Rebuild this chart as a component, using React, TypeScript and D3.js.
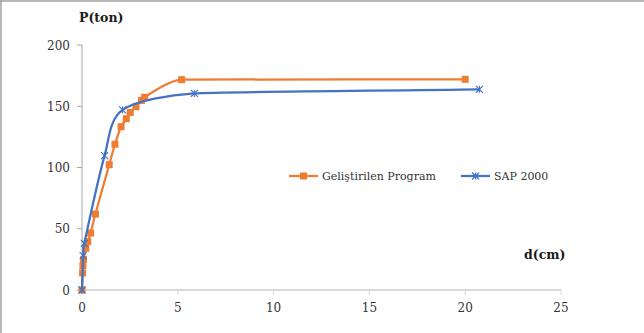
import React from "react";
import * as d3 from "d3";

// Load–displacement results: displacement d (cm) vs. load P (ton)
const programD = [0, 0.03, 0.05, 0.08, 0.2, 0.3, 0.45, 0.7, 1.42, 1.72, 2.04, 2.31, 2.52, 2.82, 3.11, 3.27, 5.2, 20];
const programP = [0, 14, 20, 25, 34, 39.5, 46.5, 62, 102.3, 119, 133.3, 139.8, 145, 149.6, 154.8, 157.3, 171.7, 172];

const sapD = [0, 0.06, 0.12, 1.18, 2.12, 5.86, 20.74];
const sapP = [0, 28, 38, 109.7, 147, 160.5, 163.8];

const xTicks = [0, 5, 10, 15, 20, 25];
const yTicks = [0, 50, 100, 150, 200];

const seriesNames = ["Geliştirilen Program", "SAP 2000"];
const ORANGE = "#ED7D31";
const BLUE = "#4472C4";

const W = 644;
const H = 333;

type Pt = [number, number];

// Smooth spline through screen points: each tangent follows the neighbour
// chord, and its handle length is limited by the shorter adjacent segment so
// long flat runs don't bulge.
function smoothPath(pts: Pt[]): string {
  const p = d3.path();
  const n = pts.length;
  if (n === 0) return "";
  const len = (a: Pt, b: Pt) => Math.hypot(b[0] - a[0], b[1] - a[1]);
  const seg = pts.slice(1).map((q, i) => len(pts[i], q));
  const tan: Pt[] = pts.map((_, i) => {
    const a = pts[Math.max(0, i - 1)];
    const b = pts[Math.min(n - 1, i + 1)];
    const l = len(a, b) || 1;
    return [(b[0] - a[0]) / l, (b[1] - a[1]) / l];
  });
  const handle = pts.map((_, i) => {
    const l0 = i > 0 ? seg[i - 1] : Infinity;
    const l1 = i < n - 1 ? seg[i] : Infinity;
    return Math.min(l0, l1) / 3;
  });
  p.moveTo(pts[0][0], pts[0][1]);
  for (let i = 0; i < n - 1; i++) {
    const a = pts[i];
    const b = pts[i + 1];
    p.bezierCurveTo(
      a[0] + tan[i][0] * handle[i],
      a[1] + tan[i][1] * handle[i],
      b[0] - tan[i + 1][0] * handle[i + 1],
      b[1] - tan[i + 1][1] * handle[i + 1],
      b[0],
      b[1]
    );
  }
  return p.toString();
}

export default function App() {
  const x = d3.scaleLinear().domain([0, 25]).range([82, 561]);
  const y = d3.scaleLinear().domain([0, 200]).range([290, 45]);

  const program: Pt[] = programD.map((d, i) => [x(d), y(programP[i])]);
  const sap: Pt[] = sapD.map((d, i) => [x(d), y(sapP[i])]);

  const serif = "'DejaVu Serif', serif";

  const star = (cx: number, cy: number, key: string | number) => {
    const r = 3.5;
    return (
      <g key={key} stroke={BLUE} strokeWidth={1.2}>
        <line x1={cx - r} y1={cy - r} x2={cx + r} y2={cy + r} />
        <line x1={cx - r} y1={cy + r} x2={cx + r} y2={cy - r} />
        <line x1={cx} y1={cy - r} x2={cx} y2={cy + r} />
      </g>
    );
  };

  const square = (cx: number, cy: number, key: string | number) => (
    <rect key={key} x={cx - 3.5} y={cy - 3.5} width={7} height={7} fill={ORANGE} />
  );

  return (
    <svg
      width={W}
      height={H}
      style={{ position: "absolute", left: 0, top: 0, background: "#fff" }}
    >
      {/* chart frame */}
      <line x1={0} y1={1} x2={W} y2={1} stroke="#a0a0a0" strokeWidth={1.5} />
      <line x1={1} y1={0} x2={1} y2={H} stroke="#a0a0a0" strokeWidth={1.5} />

      {/* x axis */}
      <line x1={x(0)} y1={y(0)} x2={x(25)} y2={y(0)} stroke="#d9d9d9" strokeWidth={2} />
      {xTicks.map((t) => (
        <g key={"xt" + t}>
          <line x1={x(t)} y1={y(0)} x2={x(t)} y2={y(0) + 5} stroke="#d9d9d9" strokeWidth={1} />
          <text x={x(t)} y={312} textAnchor="middle" fontFamily={serif} fontSize={12} fill="#333">
            {t}
          </text>
        </g>
      ))}

      {/* y axis */}
      <line x1={x(0)} y1={y(200)} x2={x(0)} y2={y(0)} stroke="#a6a6a6" strokeWidth={1} />
      {yTicks.map((t) => (
        <g key={"yt" + t}>
          <line x1={x(0) - 5} y1={y(t)} x2={x(0)} y2={y(t)} stroke="#a6a6a6" strokeWidth={1} />
          <text x={70} y={y(t) + 4.5} textAnchor="end" fontFamily={serif} fontSize={12} fill="#333">
            {t}
          </text>
        </g>
      ))}

      {/* axis titles */}
      <text x={79} y={22} fontFamily={serif} fontWeight="bold" fontSize={12.5} fill="#1a1a1a">
        P(ton)
      </text>
      <text x={524} y={259} fontFamily={serif} fontWeight="bold" fontSize={12.5} fill="#1a1a1a">
        d(cm)
      </text>

      {/* series */}
      <path d={smoothPath(program)} fill="none" stroke={ORANGE} strokeWidth={2.25} />
      {program.map((p, i) => square(p[0], p[1], "ps" + i))}
      <path d={smoothPath(sap)} fill="none" stroke={BLUE} strokeWidth={2.25} />
      {sap.map((p, i) => star(p[0], p[1], "ss" + i))}

      {/* legend */}
      <line x1={289} y1={176} x2={318} y2={176} stroke={ORANGE} strokeWidth={2.25} />
      {square(303.5, 176, "lg0")}
      <text x={322} y={180} fontFamily={serif} fontSize={11} fill="#333">
        {seriesNames[0]}
      </text>
      <line x1={461} y1={176} x2={490} y2={176} stroke={BLUE} strokeWidth={2.25} />
      {star(475.5, 176, "lg1")}
      <text x={494} y={180} fontFamily={serif} fontSize={11} fill="#333">
        {seriesNames[1]}
      </text>
    </svg>
  );
}
